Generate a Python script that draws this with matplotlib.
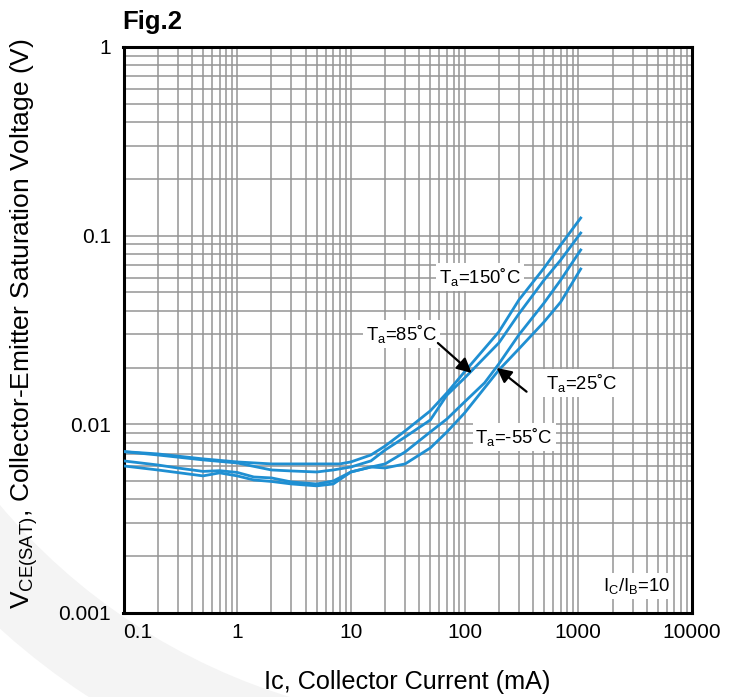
import numpy as np
import matplotlib
matplotlib.use("Agg")
import matplotlib.pyplot as plt
from matplotlib.ticker import LogLocator, FuncFormatter, NullFormatter
from matplotlib.patches import Wedge
from matplotlib.transforms import IdentityTransform

plt.rcParams['font.family'] = ['Liberation Sans', 'DejaVu Sans']
plt.rcParams['mathtext.fontset'] = 'custom'
plt.rcParams['mathtext.rm'] = 'Liberation Sans'
plt.rcParams['mathtext.it'] = 'Liberation Sans:italic'
plt.rcParams['mathtext.bf'] = 'Liberation Sans:bold'

# ---- data (Ic in mA, Vce(sat) in V) ----
ic_150 = [0.1, 0.2, 0.5, 1, 2, 5, 8, 10, 15, 20, 30, 50, 70, 100, 200, 300, 500, 700, 1050]
v_150 = [0.00717, 0.00697, 0.00656, 0.00632, 0.00617, 0.00617, 0.00617, 0.00632, 0.00688,
         0.00768, 0.00923, 0.0118, 0.0147, 0.0190, 0.0309, 0.0456, 0.0674, 0.0893, 0.1241]

ic_85 = [0.1, 0.2, 0.5, 1, 2, 3, 5, 7, 10, 15, 20, 30, 50, 70, 100, 200, 300, 500, 700, 1050]
v_85 = [0.00717, 0.00688, 0.00648, 0.00624, 0.00573, 0.00566, 0.00559, 0.00573, 0.00594,
        0.00640, 0.00731, 0.00857, 0.01055, 0.0143, 0.0176, 0.0270, 0.0385, 0.0582, 0.0743, 0.1033]

ic_25 = [0.1, 0.2, 0.3, 0.5, 0.7, 1, 1.4, 2, 3, 5, 7, 10, 15, 20, 30, 50, 70, 100, 150, 200,
         300, 500, 700, 1050]
v_25 = [0.00640, 0.00609, 0.00587, 0.00563, 0.00568, 0.00556, 0.00526, 0.00520, 0.00495,
        0.00483, 0.00501, 0.00559, 0.00594, 0.00617, 0.00714, 0.00912, 0.01068, 0.01315,
        0.0166, 0.0209, 0.0298, 0.0440, 0.0582, 0.0840]

ic_m55 = [0.1, 0.2, 0.5, 0.7, 1, 1.4, 2, 3, 5, 7, 10, 15, 20, 30, 50, 70, 100, 200, 300, 500,
          700, 1050]
v_m55 = [0.00602, 0.00573, 0.00533, 0.00553, 0.00533, 0.00507, 0.00498, 0.00483, 0.00472,
         0.00483, 0.00559, 0.00594, 0.00587, 0.00617, 0.00750, 0.00912, 0.01149, 0.0194,
         0.0251, 0.0349, 0.0445, 0.0666]

x_ticks = [0.1, 1, 10, 100, 1000, 10000]
y_ticks = [0.001, 0.01, 0.1, 1]

curve_color = '#1f8fd2'

W, H = 738, 697
fig = plt.figure(figsize=(W / 100, H / 100), dpi=100)

# faint watermark arc in the background (bottom-left corner)
wm = Wedge((470, H - 110), 700, 190, 258, width=86, transform=IdentityTransform(),
           facecolor='#f4f4f4', edgecolor='none', zorder=-5)
fig.add_artist(wm)

ax = fig.add_axes([123.5 / W, 1 - 613 / H, (692 - 123.5) / W, (613 - 47) / H])
ax.set_facecolor('white')
ax.set_xscale('log')
ax.set_yscale('log')
ax.set_xlim(0.1, 10000)
ax.set_ylim(0.001, 1)

for xs, ys in [(ic_150, v_150), (ic_85, v_85), (ic_25, v_25), (ic_m55, v_m55)]:
    ax.plot(xs, ys, color=curve_color, lw=2.0, zorder=3, solid_joinstyle='round')

ax.xaxis.set_major_locator(LogLocator(base=10, numticks=20))
ax.xaxis.set_minor_locator(LogLocator(base=10, subs=np.arange(2, 10), numticks=50))
ax.yaxis.set_major_locator(LogLocator(base=10, numticks=20))
ax.yaxis.set_minor_locator(LogLocator(base=10, subs=np.arange(2, 10), numticks=50))
ax.xaxis.set_major_formatter(FuncFormatter(lambda v, p: f'{v:g}'))
ax.yaxis.set_major_formatter(FuncFormatter(lambda v, p: f'{v:g}'))
ax.xaxis.set_minor_formatter(NullFormatter())
ax.yaxis.set_minor_formatter(NullFormatter())
ax.set_xticks(x_ticks)
ax.set_yticks(y_ticks)

ax.grid(which='both', color='#959595', lw=1.1, zorder=1)
ax.set_axisbelow(True)
ax.tick_params(which='both', length=0, labelsize=15, colors='black')
ax.tick_params(axis='x', pad=7)
ax.tick_params(axis='y', pad=9)
for s in ax.spines.values():
    s.set_linewidth(2.2)
    s.set_color('black')

fig.canvas.draw()
xl = ax.get_xticklabels()
xl[0].set_horizontalalignment('left')

ax.set_xlabel('Ic, Collector Current (mA)', fontsize=18.2)
ax.xaxis.set_label_coords(0.5, -0.100)
ax.set_ylabel(r'V$_{\mathrm{CE(SAT)}}$, Collector-Emitter Saturation Voltage (V)', fontsize=19)
ax.yaxis.set_label_coords(-0.147, 0.511)

fig.text(122 / W, 1 - 22 / H, 'Fig.2', fontsize=18.5, fontweight='bold', va='center', ha='left')

box = dict(facecolor='white', edgecolor='none', pad=2)
tk = dict(fontsize=13.3, transform=ax.transAxes, ha='center', va='center', zorder=5, bbox=box)
ax.text(0.627, 0.594, r'T$_{\mathrm{a}}$=150˚C', **tk)
ax.text(0.489, 0.493, r'T$_{\mathrm{a}}$=85˚C', **tk)
ax.text(0.806, 0.406, r'T$_{\mathrm{a}}$=25˚C', **tk)
ax.text(0.687, 0.311, r'T$_{\mathrm{a}}$=-55˚C', **tk)
ax.text(0.903, 0.048, r'I$_{\mathrm{C}}$/I$_{\mathrm{B}}$=10', **tk)

arr = dict(arrowstyle='-|>', color='black', lw=1.6, mutation_scale=22, shrinkA=0, shrinkB=0)
ax.annotate('', xy=(0.6125, 0.424), xytext=(0.553, 0.477), xycoords='axes fraction',
            textcoords='axes fraction', arrowprops=arr, zorder=6)
ax.annotate('', xy=(0.6565, 0.433), xytext=(0.709, 0.391), xycoords='axes fraction',
            textcoords='axes fraction', arrowprops=arr, zorder=6)

fig.savefig('out.png', dpi=100, facecolor='white')
